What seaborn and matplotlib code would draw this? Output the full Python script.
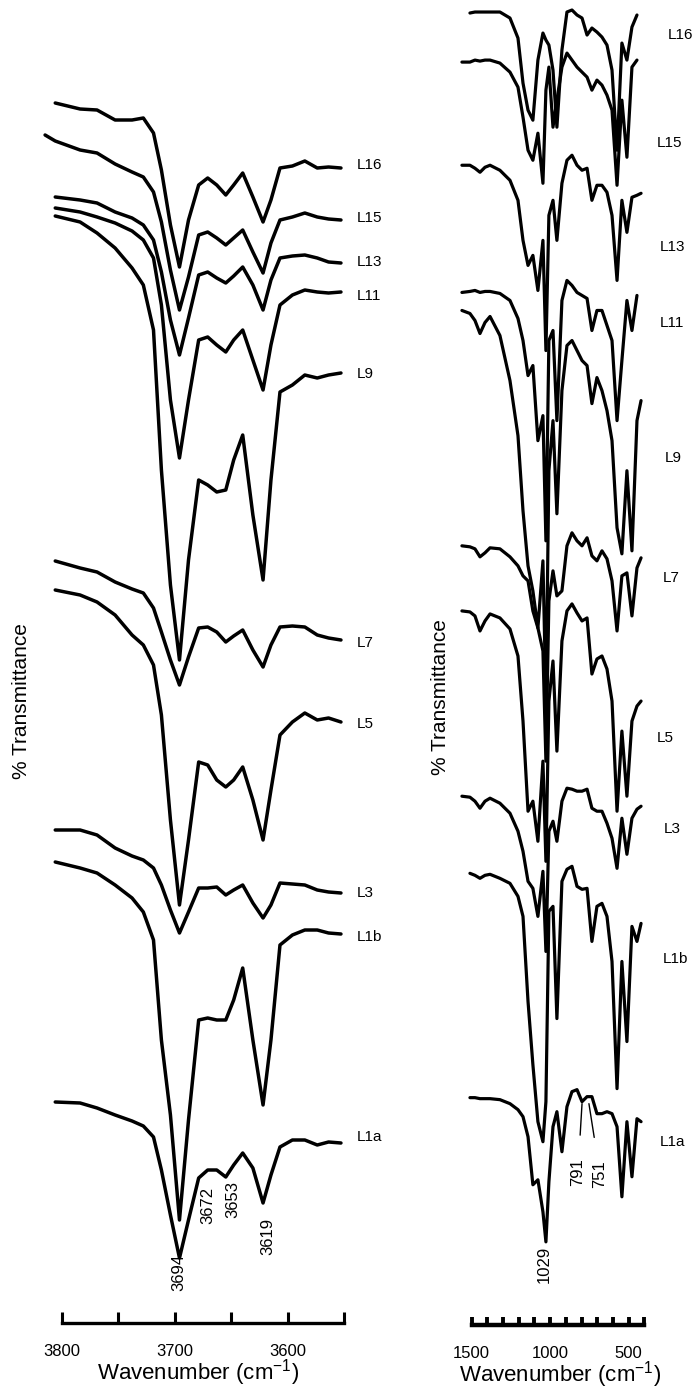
import numpy as np
import pandas as pd
import seaborn as sns
import matplotlib.pyplot as plt

nan = np.nan

# ---- left panel: OH stretching region (wavenumber, arbitrary offset transmittance)
wn_oh = [3815, 3806, 3784, 3769, 3753, 3738, 3728, 3719, 3712, 3704, 3696, 3688, 3679, 3671,
         3663, 3655, 3648, 3640, 3631, 3622, 3615, 3607, 3596, 3585, 3574, 3564, 3553]
oh_L16 = [nan, 1297, 1291, 1290, 1280, 1280, 1282, 1267, 1230, 1175, 1133, 1180, 1215, 1222,
          1215, 1205, 1215, 1227, 1203, 1178, 1200, 1232, 1234, 1239, 1232, 1233, 1232]
oh_L15 = [1265, 1259, 1250, 1247, 1236, 1228, 1223, 1208, 1178, 1130, 1090, 1123, 1165, 1168,
          1162, 1155, 1162, 1170, 1148, 1127, 1157, 1180, 1183, 1187, 1183, 1181, 1180]
oh_L13 = [nan, 1203, 1200, 1197, 1188, 1182, 1175, 1160, 1128, 1080, 1045, 1082, 1125, 1128,
          1122, 1117, 1124, 1133, 1115, 1090, 1120, 1142, 1144, 1145, 1142, 1138, 1137]
oh_L11 = [nan, 1192, 1188, 1183, 1177, 1169, 1160, 1142, 1095, 1000, 942, 1000, 1060, 1063,
          1055, 1048, 1060, 1070, 1040, 1010, 1055, 1095, 1105, 1110, 1108, 1107, 1108]
oh_L9 = [nan, 1184, 1178, 1167, 1152, 1132, 1115, 1070, 930, 815, 740, 840, 920, 915,
         908, 910, 940, 965, 885, 820, 920, 1008, 1015, 1025, 1022, 1025, 1027]
oh_L7 = [nan, 839, 832, 828, 818, 811, 807, 792, 768, 740, 715, 743, 772, 773,
         768, 758, 764, 770, 750, 733, 755, 773, 774, 773, 765, 762, 760]
oh_L5 = [nan, 810, 805, 798, 785, 765, 755, 735, 685, 580, 495, 560, 638, 635,
         620, 613, 620, 633, 600, 560, 610, 665, 678, 687, 680, 682, 678]
oh_L3 = [nan, 570, 570, 565, 552, 544, 540, 532, 515, 490, 467, 488, 512, 512,
         513, 505, 510, 515, 497, 482, 495, 517, 516, 515, 510, 508, 507]
oh_L1b = [nan, 538, 532, 527, 515, 502, 488, 460, 360, 285, 180, 280, 380, 382,
          380, 380, 400, 432, 360, 295, 360, 455, 465, 470, 470, 467, 466]
oh_L1a = [nan, 298, 297, 292, 285, 279, 274, 263, 230, 185, 142, 180, 222, 230,
          230, 223, 235, 247, 232, 197, 225, 253, 260, 260, 255, 258, 257]

# ---- right panel: fingerprint region
wn_fp = [1606, 1562, 1511, 1479, 1447, 1415, 1383, 1320, 1256, 1205, 1173, 1141, 1110, 1078,
         1046, 1027, 1008, 982, 957, 925, 893, 861, 829, 797, 765, 734, 702, 670, 638, 606,
         574, 543, 511, 479, 447, 421]
fp_L16 = [nan, nan, 1387, 1388, 1388, 1388, 1388, 1388, 1382, 1362, 1317, 1290, 1280, 1340,
          1367, 1360, 1355, 1330, 1273, 1350, 1388, 1390, 1385, 1382, 1365, 1372, 1368, 1363,
          1355, 1330, 1250, 1357, 1340, 1373, 1385, nan]
fp_L15 = [nan, 1338, 1338, 1340, 1339, 1340, 1340, 1337, 1328, 1313, 1283, 1250, 1240, 1267,
          1217, 1310, 1333, 1273, 1300, 1333, 1347, 1340, 1333, 1328, 1323, 1310, 1320, 1315,
          1305, 1290, 1215, 1300, 1243, 1333, 1340, nan]
fp_L13 = [nan, 1235, 1235, 1232, 1228, 1233, 1235, 1230, 1220, 1200, 1160, 1135, 1145, 1110,
          1160, 1050, 1185, 1200, 1160, 1217, 1240, 1245, 1235, 1230, 1232, 1200, 1215, 1215,
          1208, 1185, 1120, 1200, 1168, 1203, 1205, 1207]
fp_L11 = [nan, 1108, 1109, 1110, 1108, 1109, 1109, 1107, 1100, 1082, 1060, 1025, 1035, 960,
          985, 860, 1060, 1070, 980, 1100, 1120, 1115, 1108, 1105, 1102, 1070, 1090, 1090,
          1075, 1060, 980, 1040, 1100, 1070, 1105, nan]
fp_L9 = [nan, 1090, 1087, 1080, 1067, 1078, 1084, 1065, 1020, 965, 890, 835, 810, 773,
         840, 700, 930, 980, 887, 1010, 1055, 1060, 1050, 1040, 1035, 997, 1023, 1010,
         990, 960, 873, 847, 930, 850, 980, 1000]
fp_L7 = [nan, 855, 854, 852, 844, 848, 853, 852, 844, 835, 825, 820, 790, 773,
         750, 640, 800, 830, 805, 810, 855, 868, 860, 855, 863, 845, 840, 850,
         842, 820, 770, 825, 828, 785, 833, 843]
fp_L5 = [nan, 790, 789, 785, 770, 780, 787, 783, 772, 745, 680, 590, 600, 560,
         640, 540, 700, 740, 650, 760, 790, 797, 788, 780, 783, 727, 742, 745,
         732, 700, 590, 670, 605, 680, 695, 700]
fp_L3 = [nan, 605, 604, 600, 593, 600, 603, 598, 588, 570, 550, 520, 513, 485,
         530, 450, 570, 580, 560, 600, 613, 612, 610, 610, 612, 593, 590, 590,
         578, 563, 533, 583, 547, 583, 592, 595]
fp_L1b = [nan, nan, 528, 526, 523, 526, 527, 523, 518, 505, 485, 400, 337, 280,
          260, 300, 490, 495, 383, 520, 532, 535, 515, 512, 513, 460, 495, 498,
          485, 440, 313, 440, 360, 475, 460, 478]
fp_L1a = [nan, nan, 304, 304, 303, 303, 303, 302, 298, 292, 285, 265, 217, 222,
          190, 160, 220, 275, 290, 250, 295, 310, 312, 300, 305, 305, 288, 288,
          290, 288, 275, 205, 280, 225, 283, 280]

samples = ["L16", "L15", "L13", "L11", "L9", "L7", "L5", "L3", "L1b", "L1a"]
oh_sets = [oh_L16, oh_L15, oh_L13, oh_L11, oh_L9, oh_L7, oh_L5, oh_L3, oh_L1b, oh_L1a]
fp_sets = [fp_L16, fp_L15, fp_L13, fp_L11, fp_L9, fp_L7, fp_L5, fp_L3, fp_L1b, fp_L1a]

# label heights (same units as the spectra)
oh_label_y = [1235, 1182, 1138, 1104, 1026, 757, 676, 507, 463, 263]
fp_label_y = [1365, 1257, 1153, 1077, 943, 823, 663, 572, 442, 260]
fp_label_x = [250, 320, 301, 301, 269, 282, 320, 276, 282, 301]

# band assignments
oh_bands = [3694, 3672, 3653, 3619]
oh_band_pos = [(3696.5, 128), (3671, 195), (3649, 200), (3618, 164)]
fp_band = 1029
fp_band_pos = (1040, 138)
fp_leader = [791, 751]
fp_leader_peak = [(797, 298), (753, 298)]
fp_leader_text = [(823, 230), (683, 228)]


def long_df(wn, sets):
    frames = [pd.DataFrame({"wn": wn, "T": v, "sample": s}) for s, v in zip(samples, sets)]
    return pd.concat(frames, ignore_index=True)


sns.set_style("white")
plt.rcParams["font.family"] = ["Liberation Sans", "DejaVu Sans"]
plt.rcParams["mathtext.fontset"] = "custom"
plt.rcParams["mathtext.rm"] = "Liberation Sans"
plt.rcParams["mathtext.it"] = "Liberation Sans"
plt.rcParams["text.color"] = "black"
plt.rcParams["axes.labelcolor"] = "black"
plt.rcParams["xtick.color"] = "black"
plt.rcParams["axes.edgecolor"] = "black"

fig = plt.figure(figsize=(6.98, 13.91), dpi=100)
ax1 = fig.add_axes([40 / 698, 68 / 1391, 310 / 698, 1323 / 1391])
ax2 = fig.add_axes([450 / 698, 66 / 1391, 200 / 698, 1325 / 1391])
pal = {s: "black" for s in samples}

sns.lineplot(data=long_df(wn_oh, oh_sets), x="wn", y="T", hue="sample", palette=pal,
             estimator=None, sort=False, legend=False, linewidth=2.5, ax=ax1)
sns.lineplot(data=long_df(wn_fp, fp_sets), x="wn", y="T", hue="sample", palette=pal,
             estimator=None, sort=False, legend=False, linewidth=2.3, ax=ax2)

ax1.set_xlim(3819.5, 3545)
ax2.set_xlim(1638, 364)
for ax in (ax1, ax2):
    ax.set_ylim(77, 1400)
    ax.set_yticks([])
    ax.set_ylabel("")
    for side in ("top", "right", "left"):
        ax.spines[side].set_visible(False)
    ax.spines["bottom"].set_color("black")
    ax.set_xlabel("Wavenumber (cm$^{-1}$)", fontsize=16, labelpad=3)

ax1.spines["bottom"].set_bounds(3550, 3800)
ax1.spines["bottom"].set_linewidth(2.4)
ax1.set_xticks([3800, 3750, 3700, 3650, 3600, 3550])
ax1.set_xticklabels(["3800", "", "3700", "", "3600", ""])
ax1.tick_params(axis="x", bottom=True, direction="in", length=8, width=2.2,
                labelsize=12, pad=15, color="black")

ax2.spines["bottom"].set_bounds(400, 1500)
ax2.spines["bottom"].set_linewidth(3.2)
fp_ticks = list(range(1500, 399, -100))
ax2.set_xticks(fp_ticks)
ax2.set_xticklabels([str(t) if t % 500 == 0 else "" for t in fp_ticks])
ax2.tick_params(axis="x", bottom=True, direction="in", length=6, width=2.8,
                labelsize=12, pad=15, color="black")
ax2.xaxis.set_label_coords(0.55, -0.026)
ax1.xaxis.set_label_coords(0.51, -0.026)

for s, y in zip(samples, oh_label_y):
    ax1.text(3539, y, s, fontsize=11, ha="left", va="center", clip_on=False)
for s, x, y in zip(samples, fp_label_x, fp_label_y):
    ax2.text(x, y, s, fontsize=11, ha="left", va="center", clip_on=False)

for b, (x, y) in zip(oh_bands, oh_band_pos):
    ax1.text(x, y, str(b), rotation=90, fontsize=12, ha="center", va="center")
ax2.text(fp_band_pos[0], fp_band_pos[1], str(fp_band), rotation=90, fontsize=12,
         ha="center", va="center")
for b, pk, tx in zip(fp_leader, fp_leader_peak, fp_leader_text):
    ax2.annotate(str(b), xy=pk, xytext=tx, rotation=90, fontsize=12, ha="center",
                 va="center", arrowprops=dict(arrowstyle="-", lw=1.0, color="black",
                                              shrinkA=14, shrinkB=0))

fig.text(22 / 698, 1 - 701 / 1391, "% Transmittance", rotation=90, fontsize=15,
         ha="center", va="center")
fig.text(440 / 698, 1 - 697 / 1391, "% Transmittance", rotation=90, fontsize=15,
         ha="center", va="center")

fig.savefig("out.png", dpi=100)
